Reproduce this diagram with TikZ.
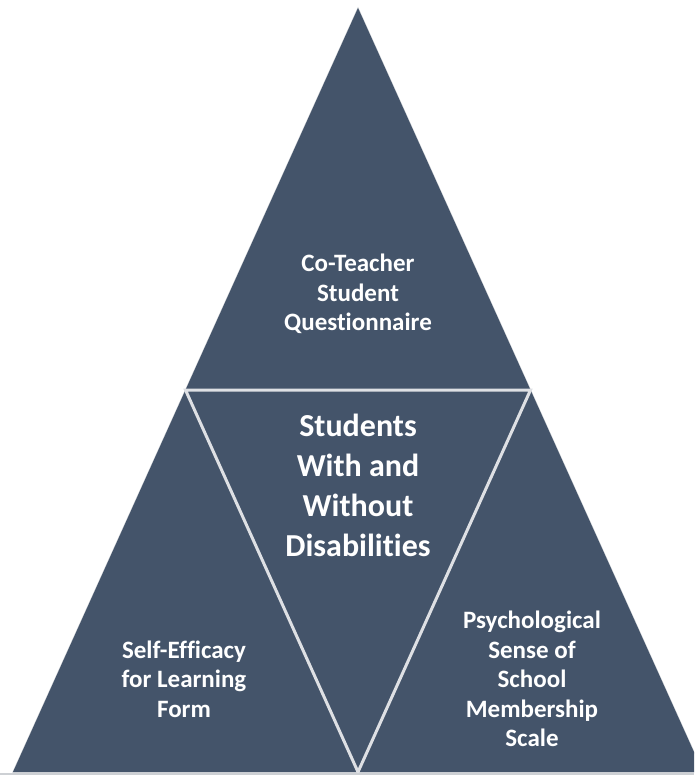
\documentclass[tikz,border=0pt]{standalone}
\usepackage{fontspec}
\setmainfont[Ligatures={NoCommon}]{Carlito}
\definecolor{slate}{HTML}{44546A}
\definecolor{seam}{RGB}{222,224,228}
\definecolor{rim}{RGB}{205,208,212}
\begin{document}
\begin{tikzpicture}[x=1pt,y=-1pt,
  lbl/.style={text=white, font=\bfseries\fontsize{25}{29.5}\selectfont, align=center, inner sep=0pt},
  hub/.style={text=white, font=\bfseries\fontsize{32}{40}\selectfont, align=center, inner sep=0pt}]
\useasboundingbox (0,0) rectangle (694,775);
% corners of the large triangle and midpoints of its sides
\coordinate (A) at (358,8);
\coordinate (L) at (13,772);
\coordinate (R) at (703,772);
\coordinate (ML) at (185.5,390);
\coordinate (MR) at (530.5,390);
\coordinate (MB) at (358,772);
\begin{scope}
  \clip (0,0) rectangle (694,775);
  \draw[rim, line width=1pt, line join=miter] (A) -- (L) -- (R) -- cycle;
  \fill[slate] (A) -- (L) -- (R) -- cycle;
  % seams between the four inner triangles
  \draw[seam, line width=3pt, line join=miter] (ML) -- (MR) -- (MB) -- cycle;
  \draw[rim, line width=2pt] (0,774) -- (694,774);
\end{scope}
\node[lbl] (top) at (358,294) {Co-Teacher\\Student\\Questionnaire};
\node[hub] (mid) at (358,485) {Students\\With and\\Without\\Disabilities};
\node[lbl] (left) at (184,679) {Self-Efficacy\\for Learning\\Form};
\node[lbl] (right) at (532,679) {Psychological\\Sense of\\School\\Membership\\Scale};
\end{tikzpicture}
\end{document}
